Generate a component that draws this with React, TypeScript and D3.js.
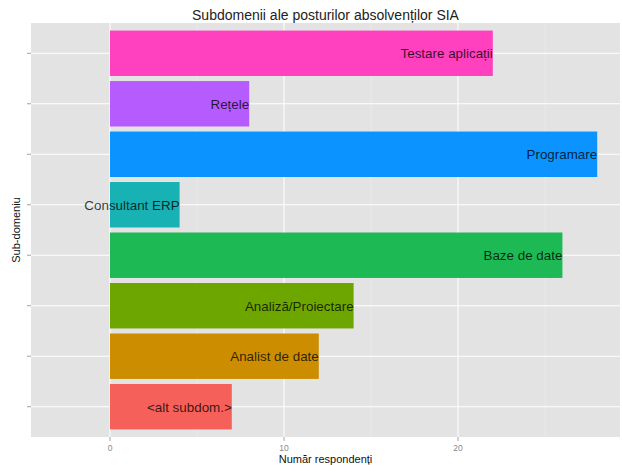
import React from "react";
import * as d3 from "d3";

const categories = [
  "<alt subdom.>",
  "Analist de date",
  "Analiză/Proiectare",
  "Baze de date",
  "Consultant ERP",
  "Programare",
  "Rețele",
  "Testare aplicații",
];
const values = [7, 12, 14, 26, 4, 28, 8, 22];
const colors = [
  "#F5605A",
  "#CC8E00",
  "#6EA600",
  "#1DB955",
  "#18B2B4",
  "#0B93FF",
  "#B65CFF",
  "#FF40BF",
];
const xMajorTicks = [0, 10, 20];
const xMinorTicks = [5, 15, 25];

const W = 622;
const H = 465;
const panel = { left: 31, right: 620, top: 23, bottom: 437 };

export default function App() {
  const x = d3
    .scaleLinear()
    .domain([-4.54, 29.31])
    .range([panel.left, panel.right]);
  const y = d3
    .scaleBand<string>()
    .domain(categories)
    .range([panel.bottom, panel.top])
    .paddingInner(0.1)
    .paddingOuter(0.15);
  const center = (c: string) => (y(c) as number) + y.bandwidth() / 2;
  const font = "'Liberation Sans', Arial, Helvetica, sans-serif";

  return (
    <svg
      width={W}
      height={H}
      style={{ position: "absolute", left: 0, top: 0 }}
      fontFamily={font}
    >
      <rect x={0} y={0} width={W} height={H} fill="#fff" />
      <rect
        x={panel.left}
        y={panel.top}
        width={panel.right - panel.left}
        height={panel.bottom - panel.top}
        fill="#E3E3E3"
      />
      {xMinorTicks.map((t) => (
        <line
          key={"mn" + t}
          x1={x(t)}
          x2={x(t)}
          y1={panel.top}
          y2={panel.bottom}
          stroke="#F0F0F0"
          strokeWidth={0.6}
        />
      ))}
      {xMajorTicks.map((t) => (
        <line
          key={"mj" + t}
          x1={x(t)}
          x2={x(t)}
          y1={panel.top}
          y2={panel.bottom}
          stroke="#fff"
          strokeWidth={1.1}
        />
      ))}
      {categories.map((c) => (
        <line
          key={"hg" + c}
          x1={panel.left}
          x2={panel.right}
          y1={center(c)}
          y2={center(c)}
          stroke="#fff"
          strokeWidth={1.1}
        />
      ))}
      {categories.map((c, i) => (
        <rect
          key={"b" + c}
          x={x(0)}
          y={y(c) as number}
          width={x(values[i]) - x(0)}
          height={y.bandwidth()}
          fill={colors[i]}
        />
      ))}
      {categories.map((c, i) => (
        <text
          key={"l" + c}
          x={x(values[i])}
          y={center(c)}
          dy="0.36em"
          textAnchor="end"
          fontSize={13.4}
          fill="#000"
          fillOpacity={0.78}
        >
          {c}
        </text>
      ))}
      {categories.map((c) => (
        <line
          key={"yt" + c}
          x1={panel.left - 4}
          x2={panel.left}
          y1={center(c)}
          y2={center(c)}
          stroke="#8a8a8a"
          strokeWidth={0.8}
        />
      ))}
      {xMajorTicks.map((t) => (
        <g key={"xt" + t}>
          <line
            x1={x(t)}
            x2={x(t)}
            y1={panel.bottom}
            y2={panel.bottom + 4}
            stroke="#8a8a8a"
            strokeWidth={0.8}
          />
          <text
            x={x(t)}
            y={panel.bottom + 14}
            textAnchor="middle"
            fontSize={8.5}
            fill="#8a8a8a"
          >
            {t}
          </text>
        </g>
      ))}
      <text
        x={(panel.left + panel.right) / 2}
        y={463}
        textAnchor="middle"
        fontSize={11}
        fill="#111"
      >
        Număr respondenți
      </text>
      <text
        transform={`translate(20, ${(panel.top + panel.bottom) / 2}) rotate(-90)`}
        textAnchor="middle"
        fontSize={11}
        fill="#111"
      >
        Sub-domeniu
      </text>
      <text
        x={(panel.left + panel.right) / 2}
        y={19.5}
        textAnchor="middle"
        fontSize={14}
        fill="#222"
      >
        Subdomenii ale posturilor absolvenților SIA
      </text>
    </svg>
  );
}
